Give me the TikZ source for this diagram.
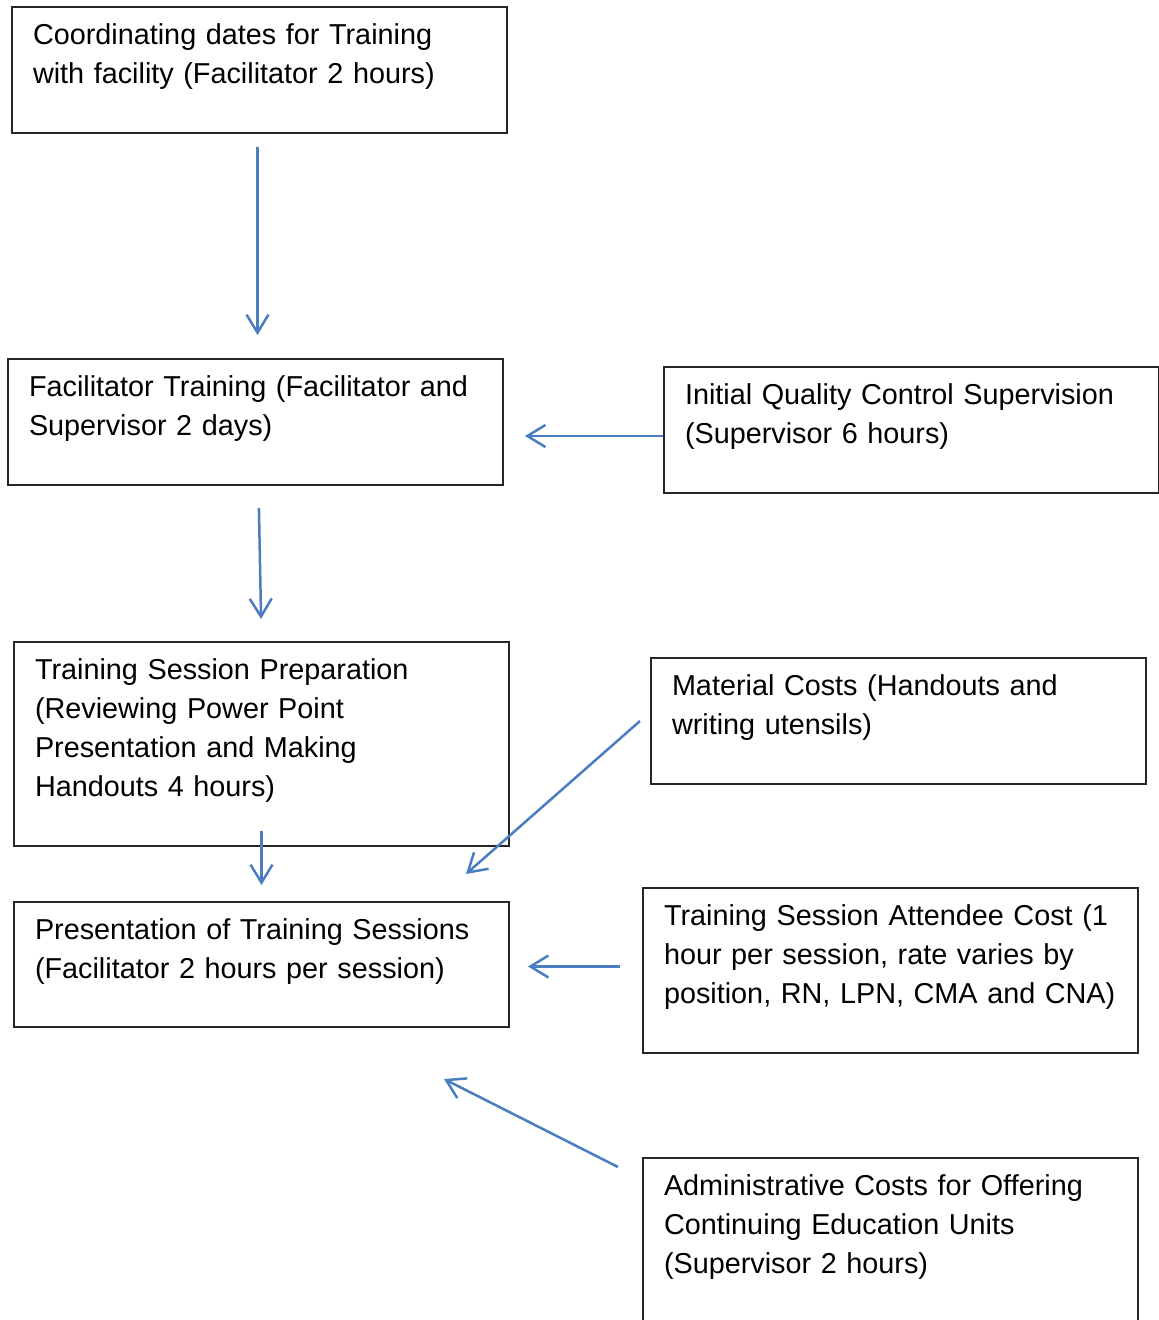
\documentclass[tikz,border=0pt]{standalone}
\usepackage{fontspec}
\setmainfont{Liberation Sans}
\usepackage{xcolor}
\usetikzlibrary{arrows.meta}
\definecolor{flowblue}{RGB}{74,126,193}

\begin{document}
\begin{tikzpicture}[x=1pt, y=-1pt,
    box/.style = {draw=black!85, line width=2pt, anchor=north west, inner xsep=21pt, inner ysep=0pt,
                  text width=453pt, align=left, text height=37pt, font=\fontsize{28.8}{39}\selectfont},
    flow/.style = {draw=flowblue, line width=2.5pt, -{Straight Barb[length=18pt,width=22pt]}}]
      \useasboundingbox (0,0) rectangle (1159,1320);

      \node[box, text depth=89pt] (coord) at (11,6) {Coordinating dates for Training\\with facility (Facilitator 2 hours)};
      \node[box, text depth=89pt] (fac_train) at (7,358) {Facilitator Training (Facilitator and\\Supervisor 2 days)};
      \node[box, text depth=89pt] (qc_sup) at (663,366) {Initial Quality Control Supervision\\(Supervisor 6 hours)};
      \node[box, text depth=167pt] (prep) at (13,641) {Training Session Preparation\\(Reviewing Power Point\\Presentation and Making\\Handouts 4 hours)};
      \node[box, text depth=89pt] (material) at (650,657) {Material Costs (Handouts and\\writing utensils)};
      \node[box, text depth=88pt] (present) at (13,901) {Presentation of Training Sessions\\(Facilitator 2 hours per session)};
      \node[box, text depth=128pt] (attendee) at (642,887) {Training Session Attendee Cost (1\\hour per session, rate varies by\\\mbox{position, RN, LPN, CMA and CNA)}};
      \node[box, text depth=163pt] (admin) at (642,1157) {Administrative Costs for Offering\\Continuing Education Units\\(Supervisor 2 hours)};

      \draw[flow, shorten <=13pt, shorten >=23pt] ([xshift=-2pt]coord.south) -- ([xshift=-2pt]coord.south |- fac_train.north);
      \draw[flow, shorten <=22pt, shorten >=22pt] ([xshift=3pt]fac_train.south) -- (prep.north);
      \draw[flow, shorten >=21pt] ([yshift=-6pt]qc_sup.west) -- ([yshift=-6pt]qc_sup.west -| fac_train.east);
      \draw[flow] ([yshift=16pt]prep.south) -- ([yshift=16pt]present.north);
      \draw[flow] ([xshift=-10pt]material.west) -- ([xshift=-44pt,yshift=27pt]present.north east);
      \draw[flow, shorten <=22pt, shorten >=18pt] ([yshift=4pt]attendee.west) -- ([yshift=4pt]attendee.west -| present.east);
      \draw[flow] ([xshift=-24pt,yshift=-10pt]admin.north west) -- ([xshift=-66pt,yshift=-51pt]present.south east);
    \end{tikzpicture}
\end{document}
